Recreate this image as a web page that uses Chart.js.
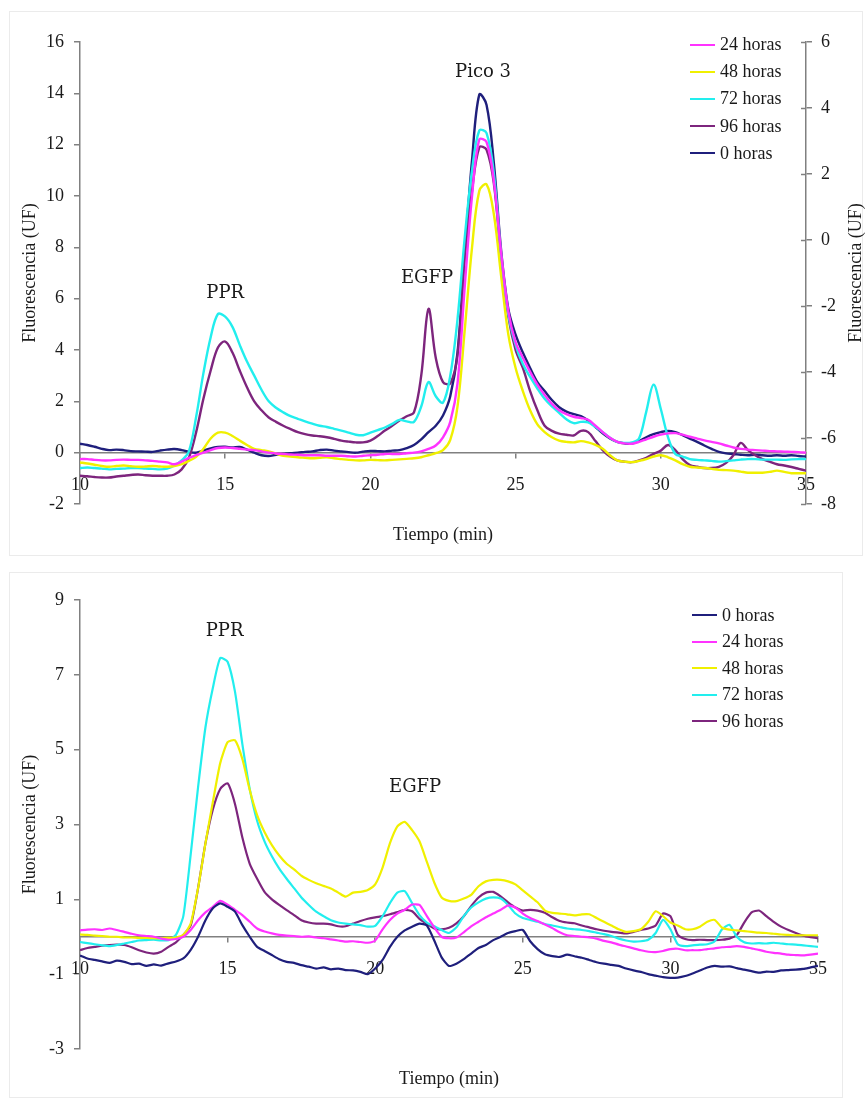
<!DOCTYPE html>
<html>
<head>
<meta charset="utf-8">
<script src="https://cdn.jsdelivr.net/npm/chart.js@4.4.1/dist/chart.umd.min.js"></script>
<style>
  html, body { margin: 0; padding: 0; background: #fff; }
  body { position: relative; width: 865px; height: 1100px; overflow: hidden;
         font-family: 'Liberation Serif', 'Times New Roman', serif; }
  .panel { position: absolute; border: 1px solid #ebebeb; box-sizing: border-box; }
  .cv { position: absolute; left: 0; }
  .legend { position: absolute; font-size: 18px; color: #1a1a1a; }
  .legend .row { display: flex; align-items: center; white-space: nowrap; }
  .legend .sw { display: inline-block; width: 25px; height: 2px; margin-right: 5px; }
</style>
</head>
<body>
<div class="panel" style="left:9px;top:11px;width:854px;height:545px"></div>
<div class="panel" style="left:9px;top:572px;width:834px;height:526px"></div>
<canvas id="sup" class="cv" width="865" height="560" style="top:0"></canvas>
<canvas id="inf" class="cv" width="865" height="540" style="top:560px"></canvas>
<div id="legSup" class="legend" style="left:690px;top:31px"></div>
<div id="legInf" class="legend" style="left:692px;top:602px"></div>
<script>
// Tiempo de elución (min)
const tiempo = [
  10, 10.25, 10.5, 10.75, 11, 11.25, 11.5, 11.75, 12, 12.25, 12.5, 12.75,
  13, 13.25, 13.5, 13.75, 14, 14.25, 14.5, 14.75, 15, 15.25, 15.5, 15.75,
  16, 16.25, 16.5, 16.75, 17, 17.25, 17.5, 17.75, 18, 18.25, 18.5, 18.75,
  19, 19.25, 19.5, 19.75, 20, 20.25, 20.5, 20.75, 21, 21.25, 21.5, 21.75,
  22, 22.25, 22.5, 22.75, 23, 23.25, 23.5, 23.75, 24, 24.25, 24.5, 24.75,
  25, 25.25, 25.5, 25.75, 26, 26.25, 26.5, 26.75, 27, 27.25, 27.5, 27.75,
  28, 28.25, 28.5, 28.75, 29, 29.25, 29.5, 29.75, 30, 30.25, 30.5, 30.75,
  31, 31.25, 31.5, 31.75, 32, 32.25, 32.5, 32.75, 33, 33.25, 33.5, 33.75,
  34, 34.25, 34.5, 34.75, 35
];

const etiquetasSup = ['24 horas', '48 horas', '72 horas', '96 horas', '0 horas'];
const etiquetasInf = ['0 horas', '24 horas', '48 horas', '72 horas', '96 horas'];

// Cromatograma superior: fluorescencia (UF)
const sup0 = [
  0.35, 0.30, 0.23, 0.15,  0.10, 0.12, 0.10, 0.06,  0.05, 0.04, 0.03, 0.08,
  0.12, 0.14, 0.10, 0.03,  0.00, 0.08, 0.17, 0.22,  0.23, 0.20, 0.22, 0.12,
  0.00, -0.10, -0.13, -0.08,  -0.05, -0.02, 0.00, 0.03,  0.05, 0.10, 0.12, 0.08,
  0.05, 0.02, 0.00, 0.04,  0.07, 0.06, 0.05, 0.08,  0.10, 0.18, 0.30, 0.52,
  0.80, 1.05, 1.45, 2.20,  3.90, 7.80, 11.40, 13.95,  13.55, 11.30, 7.90, 5.60,
  4.60, 3.90, 3.30, 2.75,  2.40, 2.05, 1.77, 1.60,  1.50, 1.42, 1.25, 1.00,
  0.75, 0.55, 0.42, 0.36,  0.35, 0.45, 0.60, 0.72,  0.80, 0.85, 0.80, 0.68,
  0.55, 0.42, 0.28, 0.15,  0.03, -0.03, -0.05, -0.08,  -0.10, -0.08, -0.10, -0.12,
  -0.10, -0.12, -0.10, -0.13,  -0.15
];
const sup24 = [
  -0.25, -0.25, -0.28, -0.30,  -0.30, -0.28, -0.27, -0.28,  -0.28, -0.30, -0.32, -0.35,
  -0.38, -0.45, -0.35, -0.20,  -0.10, 0.00, 0.10, 0.18,  0.20, 0.18, 0.15, 0.12,
  0.10, 0.05, 0.00, -0.03,  -0.05, -0.07, -0.08, -0.10,  -0.10, -0.10, -0.12, -0.12,
  -0.12, -0.14, -0.15, -0.12,  -0.10, -0.08, -0.05, -0.05,  -0.05, -0.02, 0.00, 0.05,
  0.15, 0.28, 0.60, 1.20,  2.70, 6.50, 10.00, 12.20,  12.10, 10.60, 7.80, 5.50,
  4.30, 3.70, 3.15, 2.65,  2.25, 1.90, 1.65, 1.50,  1.40, 1.35, 1.28, 1.05,
  0.80, 0.58, 0.42, 0.36,  0.35, 0.42, 0.52, 0.62,  0.70, 0.75, 0.76, 0.70,
  0.62, 0.55, 0.48, 0.42,  0.36, 0.28, 0.20, 0.15,  0.12, 0.10, 0.08, 0.06,
  0.05, 0.04, 0.03, 0.02,  0.00
];
const sup48 = [
  -0.38, -0.42, -0.47, -0.52,  -0.55, -0.52, -0.50, -0.53,  -0.55, -0.54, -0.52, -0.54,
  -0.55, -0.52, -0.45, -0.32,  -0.16, 0.15, 0.55, 0.78,  0.78, 0.65, 0.47, 0.30,
  0.15, 0.10, 0.05, -0.04,  -0.12, -0.15, -0.18, -0.20,  -0.22, -0.20, -0.18, -0.22,
  -0.25, -0.28, -0.30, -0.30,  -0.28, -0.29, -0.30, -0.28,  -0.26, -0.24, -0.22, -0.18,
  -0.10, -0.02, 0.10, 0.50,  1.80, 4.80, 8.00, 10.20,  10.45, 9.30, 6.90, 4.60,
  3.30, 2.40, 1.65, 1.10,  0.80, 0.60, 0.47, 0.42,  0.40, 0.45, 0.40, 0.30,
  0.15, -0.10, -0.30, -0.35,  -0.37, -0.32, -0.25, -0.15,  -0.10, -0.18, -0.30, -0.45,
  -0.55, -0.58, -0.60, -0.63,  -0.67, -0.68, -0.70, -0.74,  -0.78, -0.78, -0.78, -0.75,
  -0.70, -0.75, -0.80, -0.80,  -0.80
];
const sup72 = [
  -0.60, -0.58, -0.60, -0.62,  -0.65, -0.63, -0.62, -0.60,  -0.60, -0.62, -0.63, -0.65,
  -0.62, -0.50, -0.30, 0.05,  1.40, 3.10, 4.50, 5.40,  5.30, 4.90, 4.20, 3.55,
  3.00, 2.45, 2.00, 1.75,  1.57, 1.42, 1.32, 1.22,  1.13, 1.05, 1.00, 0.93,
  0.86, 0.78, 0.70, 0.68,  0.78, 0.88, 0.98, 1.12,  1.28, 1.22, 1.20, 1.80,
  2.75, 2.20, 1.95, 3.00,  5.20, 8.40, 11.00, 12.55,  12.45, 10.90, 7.70, 5.40,
  4.20, 3.45, 2.95, 2.50,  2.10, 1.80, 1.55, 1.30,  1.15, 1.20, 1.18, 1.00,
  0.80, 0.58, 0.42, 0.38,  0.40, 0.55, 1.60, 2.65,  1.70, 0.60, -0.05, -0.15,
  -0.25, -0.28, -0.30, -0.32,  -0.35, -0.33, -0.30, -0.27,  -0.25, -0.25, -0.27, -0.27,
  -0.27, -0.28, -0.26, -0.25,  -0.25
];
const sup96 = [
  -0.90, -0.92, -0.95, -0.97,  -0.97, -0.93, -0.90, -0.87,  -0.85, -0.88, -0.90, -0.90,
  -0.90, -0.85, -0.65, -0.20,  0.80, 2.10, 3.20, 4.10,  4.33, 3.90, 3.20, 2.55,
  2.00, 1.65, 1.37, 1.20,  1.05, 0.92, 0.80, 0.72,  0.67, 0.64, 0.60, 0.54,
  0.47, 0.43, 0.40, 0.40,  0.47, 0.65, 0.86, 1.05,  1.25, 1.42, 1.57, 3.00,
  5.60, 3.70, 2.75, 2.70,  3.80, 7.60, 10.20, 11.90,  11.80, 10.50, 7.60, 5.30,
  4.00, 3.30, 2.40, 1.65,  1.05, 0.85, 0.74, 0.70,  0.67, 0.85, 0.80, 0.45,
  0.10, -0.15, -0.30, -0.35,  -0.37, -0.30, -0.20, -0.05,  0.08, 0.30, 0.10, -0.25,
  -0.48, -0.55, -0.60, -0.60,  -0.55, -0.40, -0.10, 0.38,  0.10, -0.10, -0.25, -0.35,
  -0.45, -0.50, -0.56, -0.63,  -0.70
];

// Cromatograma inferior: fluorescencia (UF)
const inf0 = [
  -0.50, -0.58, -0.62, -0.66,  -0.70, -0.64, -0.67, -0.73,  -0.72, -0.78, -0.74, -0.77,
  -0.71, -0.66, -0.58, -0.35,  0.00, 0.44, 0.76, 0.89,  0.80, 0.67, 0.31, 0.00,
  -0.27, -0.38, -0.49, -0.60,  -0.67, -0.70, -0.76, -0.80,  -0.85, -0.82, -0.87, -0.85,
  -0.89, -0.90, -0.94, -1.00,  -0.85, -0.62, -0.27, 0.00,  0.17, 0.27, 0.35, 0.30,
  -0.10, -0.55, -0.78, -0.72,  -0.60, -0.45, -0.30, -0.22,  -0.09, 0.00, 0.10, 0.15,
  0.18, -0.12, -0.33, -0.47,  -0.52, -0.54, -0.48, -0.52,  -0.56, -0.62, -0.68, -0.72,
  -0.75, -0.78, -0.85, -0.90,  -0.94, -1.00, -1.04, -1.08,  -1.10, -1.09, -1.05, -0.98,
  -0.90, -0.82, -0.78, -0.80,  -0.79, -0.84, -0.88, -0.92,  -0.96, -0.93, -0.94, -0.90,
  -0.89, -0.88, -0.86, -0.82,  -0.78
];
const inf24 = [
  0.17, 0.19, 0.20, 0.18,  0.22, 0.18, 0.13, 0.08,  0.04, 0.02, 0.00, -0.05,
  -0.08, -0.06, 0.00, 0.18,  0.44, 0.65, 0.80, 0.96,  0.86, 0.72, 0.58, 0.40,
  0.22, 0.14, 0.09, 0.05,  0.03, 0.02, 0.00, 0.01,  -0.02, -0.04, -0.07, -0.10,
  -0.13, -0.12, -0.14, -0.16,  -0.10, 0.20, 0.45, 0.62,  0.72, 0.86, 0.85, 0.55,
  0.25, 0.00, -0.04, -0.02,  0.12, 0.28, 0.40, 0.52,  0.62, 0.72, 0.84, 0.78,
  0.62, 0.50, 0.42, 0.33,  0.23, 0.12, 0.04, 0.02,  0.00, -0.02, -0.05, -0.11,
  -0.15, -0.21, -0.26, -0.31,  -0.36, -0.40, -0.41, -0.38,  -0.33, -0.32, -0.36, -0.36,
  -0.36, -0.33, -0.31, -0.28,  -0.27, -0.25, -0.27, -0.31,  -0.35, -0.40, -0.43, -0.45,
  -0.48, -0.49, -0.50, -0.48,  -0.45
];
const inf48 = [
  0.06, 0.05, 0.03, 0.02,  0.00, 0.00, -0.02, -0.02,  -0.03, -0.03, -0.04, -0.04,
  -0.03, -0.02, 0.05, 0.35,  1.30, 2.50, 3.60, 4.64,  5.20, 5.25, 4.75, 3.92,
  3.25, 2.80, 2.45, 2.17,  1.95, 1.80, 1.63, 1.52,  1.43, 1.36, 1.29, 1.18,
  1.07, 1.18, 1.20, 1.25,  1.40, 1.85, 2.50, 2.95,  3.07, 2.85, 2.55, 2.00,
  1.45, 1.05, 0.96, 0.95,  1.02, 1.12, 1.35, 1.48,  1.52, 1.52, 1.48, 1.40,
  1.24, 1.08, 0.92, 0.70,  0.64, 0.62, 0.60, 0.57,  0.60, 0.60, 0.50, 0.40,
  0.30, 0.20, 0.13, 0.15,  0.20, 0.40, 0.68, 0.55,  0.38, 0.30, 0.20, 0.20,
  0.27, 0.40, 0.45, 0.24,  0.19, 0.17, 0.15, 0.13,  0.11, 0.10, 0.08, 0.06,
  0.05, 0.04, 0.04, 0.04,  0.04
];
const inf72 = [
  -0.14, -0.17, -0.20, -0.23,  -0.25, -0.22, -0.18, -0.14,  -0.10, -0.09, -0.08, -0.10,
  -0.09, 0.05, 0.55, 2.20,  4.00, 5.60, 6.65, 7.45,  7.35, 6.55, 5.15, 3.95,
  3.10, 2.55, 2.15, 1.82,  1.55, 1.30, 1.05, 0.85,  0.67, 0.55, 0.44, 0.38,
  0.35, 0.33, 0.31, 0.27,  0.29, 0.55, 0.90, 1.18,  1.22, 0.90, 0.58, 0.38,
  0.28, 0.18, 0.10, 0.25,  0.55, 0.78, 0.92, 1.02,  1.05, 1.02, 0.85, 0.62,
  0.50, 0.45, 0.40, 0.34,  0.30, 0.26, 0.22, 0.20,  0.18, 0.15, 0.11, 0.07,
  0.02, -0.05, -0.10, -0.13,  -0.12, -0.08, 0.10, 0.45,  0.20, -0.20, -0.25, -0.23,
  -0.21, -0.20, -0.12, 0.20,  0.32, 0.00, -0.15, -0.18,  -0.17, -0.18, -0.16, -0.18,
  -0.20, -0.21, -0.23, -0.25,  -0.27
];
const inf96 = [
  -0.36, -0.30, -0.27, -0.24,  -0.22, -0.21, -0.22, -0.28,  -0.36, -0.42, -0.45, -0.40,
  -0.27, -0.15, 0.05, 0.30,  1.30, 2.50, 3.40, 3.95,  4.10, 3.55, 2.65, 1.95,
  1.55, 1.20, 1.00, 0.85,  0.71, 0.58, 0.44, 0.38,  0.35, 0.35, 0.33, 0.28,
  0.28, 0.35, 0.42, 0.48,  0.52, 0.55, 0.60, 0.66,  0.72, 0.68, 0.48, 0.35,
  0.22, 0.20, 0.24, 0.36,  0.55, 0.82, 1.05, 1.18,  1.20, 1.08, 0.92, 0.78,
  0.70, 0.72, 0.70, 0.64,  0.52, 0.42, 0.38, 0.36,  0.30, 0.25, 0.20, 0.16,
  0.13, 0.11, 0.09, 0.13,  0.18, 0.22, 0.30, 0.62,  0.55, 0.05, -0.06, -0.09,
  -0.08, -0.09, -0.09, -0.08,  -0.05, 0.05, 0.38, 0.65,  0.70, 0.55, 0.40, 0.27,
  0.18, 0.10, 0.03, -0.01,  -0.04
];

// Picos señalados: [texto, tiempo, fluorescencia]
const picosSup = [['PPR', 15.0, 6.2], ['EGFP', 21.95, 6.8], ['Pico 3', 23.88, 14.8]];
const picosInf = [['PPR', 14.9, 8.15], ['EGFP', 21.35, 4.0]];

const COLORES = {
  '0 horas': '#1f1f7c',
  '24 horas': '#ff33ff',
  '48 horas': '#f0f000',
  '72 horas': '#22eeee',
  '96 horas': '#7d257d'
};
const TXT = '#1a1a1a';
const EJE = '#808080';

Chart.defaults.font.family = "'Liberation Serif', 'Times New Roman', serif";
Chart.defaults.font.size = 18;
Chart.defaults.color = TXT;

function serie(etiqueta, valores, tension, grosor) {
  return {
    label: etiqueta,
    data: tiempo.map((t, i) => ({ x: t, y: valores[i] })),
    borderColor: COLORES[etiqueta],
    backgroundColor: COLORES[etiqueta],
    borderWidth: grosor,
    pointRadius: 0,
    tension: tension,
    fill: false
  };
}

// Rótulos de picos, título del eje derecho y marcas interiores de ese eje
function rotulos(picos, tituloDerecho) {
  return {
    id: 'rotulos',
    afterDatasetsDraw(chart) {
      const { ctx, scales, chartArea } = chart;
      ctx.save();
      ctx.fillStyle = TXT;
      ctx.textAlign = 'center';
      ctx.textBaseline = 'middle';
      ctx.font = "18px 'DejaVu Serif', serif";
      for (const [texto, t, v] of picos) {
        ctx.fillText(texto, scales.x.getPixelForValue(t), scales.y.getPixelForValue(v));
      }
      if (tituloDerecho && scales.y1) {
        const s = scales.y1;
        ctx.strokeStyle = EJE;
        ctx.lineWidth = 1.5;
        for (const tk of s.ticks) {
          const py = Math.round(s.getPixelForValue(tk.value)) + 0.5;
          ctx.beginPath();
          ctx.moveTo(chartArea.right - 5, py);
          ctx.lineTo(chartArea.right, py);
          ctx.stroke();
        }
        ctx.font = "18px 'Liberation Serif', serif";
        ctx.translate(s.right - 9, (chartArea.top + chartArea.bottom) / 2);
        ctx.rotate(-Math.PI / 2);
        ctx.fillText(tituloDerecho, 0, 0);
      }
      ctx.restore();
    }
  };
}

function ejeX(alto) {
  return {
    type: 'linear', min: 10, max: 35, position: { y: 0 },
    ticks: { stepSize: 5, padding: 17, maxRotation: 0, autoSkip: false },
    grid: { drawOnChartArea: false, tickLength: 5, color: EJE, lineWidth: 1.5 },
    border: { color: EJE, width: 1.5 },
    title: { display: true, text: 'Tiempo (min)', font: { size: 18, lineHeight: 1 }, padding: 0 },
    afterFit: s => { s.height = alto; }
  };
}

function ejeY(min, max) {
  return {
    type: 'linear', position: 'left', min: min, max: max,
    ticks: { stepSize: 2, padding: 10 },
    grid: { drawOnChartArea: false, tickLength: 6, color: EJE, lineWidth: 1.5 },
    border: { color: EJE, width: 1.5 },
    title: { display: true, text: 'Fluorescencia (UF)', font: { size: 18, lineHeight: 1 },
             padding: { top: 21, bottom: 0 } },
    afterFit: s => { s.width = 80; }
  };
}

const chartSup = new Chart(document.getElementById('sup'), {
  type: 'line',
  data: {
    datasets: [
      serie('24 horas', sup24, 0.35, 2.4),
      serie('48 horas', sup48, 0.35, 2.4),
      serie('72 horas', sup72, 0.35, 2.4),
      serie('96 horas', sup96, 0.35, 2.4),
      serie('0 horas', sup0, 0.35, 2.4)
    ]
  },
  options: {
    responsive: false,
    animation: false,
    layout: { padding: { left: 0, right: 0, top: 42, bottom: 56 } },
    plugins: { legend: { display: false }, tooltip: { enabled: false } },
    scales: {
      x: ejeX(92),
      y: ejeY(-2, 16),
      y1: {
        type: 'linear', position: 'right', min: -8, max: 6,
        ticks: { stepSize: 2, padding: 9 },
        grid: { drawOnChartArea: false, tickLength: 6, color: EJE, lineWidth: 1.5 },
        border: { color: EJE, width: 1.5 },
        afterFit: s => { s.width = 59; }
      }
    }
  },
  plugins: [rotulos(picosSup, 'Fluorescencia (UF)')]
});

const chartInf = new Chart(document.getElementById('inf'), {
  type: 'line',
  data: {
    datasets: [
      serie('0 horas', inf0, 0.2, 2.2),
      serie('24 horas', inf24, 0.2, 2.2),
      serie('48 horas', inf48, 0.2, 2.2),
      serie('72 horas', inf72, 0.2, 2.2),
      serie('96 horas', inf96, 0.2, 2.2)
    ]
  },
  options: {
    responsive: false,
    animation: false,
    layout: { padding: { left: 0, right: 47, top: 40, bottom: 51 } },
    plugins: { legend: { display: false }, tooltip: { enabled: false } },
    scales: {
      x: ejeX(152),
      y: ejeY(-3, 9)
    }
  },
  plugins: [rotulos(picosInf, null)]
});

// Leyendas construidas a partir de los conjuntos de datos de cada gráfico
function leyenda(chart, id, alto) {
  const cont = document.getElementById(id);
  for (const ds of chart.data.datasets) {
    const fila = document.createElement('div');
    fila.className = 'row';
    fila.style.height = alto + 'px';
    const sw = document.createElement('span');
    sw.className = 'sw';
    sw.style.background = ds.borderColor;
    const tx = document.createElement('span');
    tx.textContent = ds.label;
    fila.appendChild(sw);
    fila.appendChild(tx);
    cont.appendChild(fila);
  }
}
leyenda(chartSup, 'legSup', 27.2);
leyenda(chartInf, 'legInf', 26.5);
</script>
</body>
</html>
